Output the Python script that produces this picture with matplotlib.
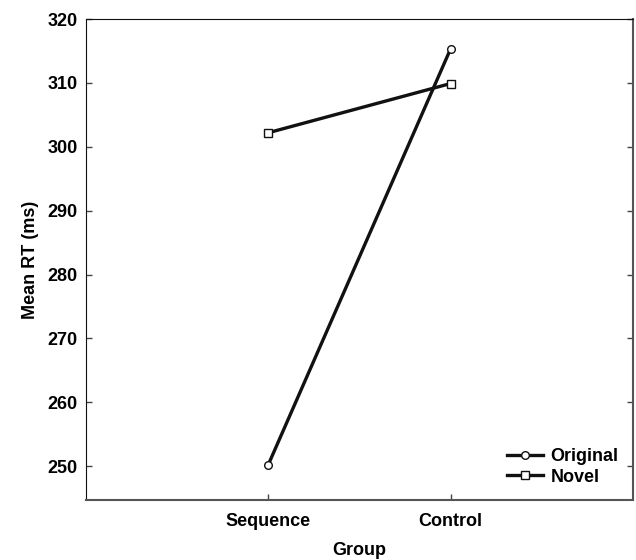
import matplotlib.pyplot as plt

plt.rcParams['font.family'] = ['Liberation Sans', 'DejaVu Sans']
plt.rcParams['font.weight'] = 'bold'

groups = ["Sequence", "Control"]
original = [250.2, 315.3]
novel = [302.2, 309.9]

fig = plt.figure(figsize=(6.36, 5.6), dpi=100)
ax = fig.add_axes([0.135, 0.107, 0.86, 0.859])

x = [1, 2]
ax.plot(x, original, color='#111111', lw=2.4, marker='o', ms=5.5,
        mfc='white', mec='#111111', mew=1.0, label='Original')
ax.plot(x, novel, color='#111111', lw=2.4, marker='s', ms=5.5,
        mfc='white', mec='#111111', mew=1.0, label='Novel')

ax.set_xlim(0, 3)
ax.set_ylim(244.7, 320)
ax.set_xticks(x)
ax.set_xticklabels(groups)
ax.set_yticks(range(250, 321, 10))

ax.tick_params(axis='both', direction='in', length=4, width=1, labelsize=13, color='#444444')
ax.tick_params(axis='y', right=True, pad=6)
for lab in ax.get_xticklabels() + ax.get_yticklabels():
    lab.set_fontweight('bold')
ax.tick_params(axis='x', pad=9)

for s in ['left', 'top']:
    ax.spines[s].set_color('#111111')
for s in ['right', 'bottom']:
    ax.spines[s].set_color('#555555')
    ax.spines[s].set_linewidth(1.5)

ax.set_xlabel('Group', fontsize=13, fontweight='bold', labelpad=9)
ax.set_ylabel('Mean RT (ms)', fontsize=13, fontweight='bold', labelpad=6)

ax.legend(loc='lower right', frameon=False, handlelength=2.0,
          handletextpad=0.4, labelspacing=0.2, borderaxespad=0.4,
          prop={'weight': 'bold', 'size': 13})

fig.savefig('out.png', dpi=100)
